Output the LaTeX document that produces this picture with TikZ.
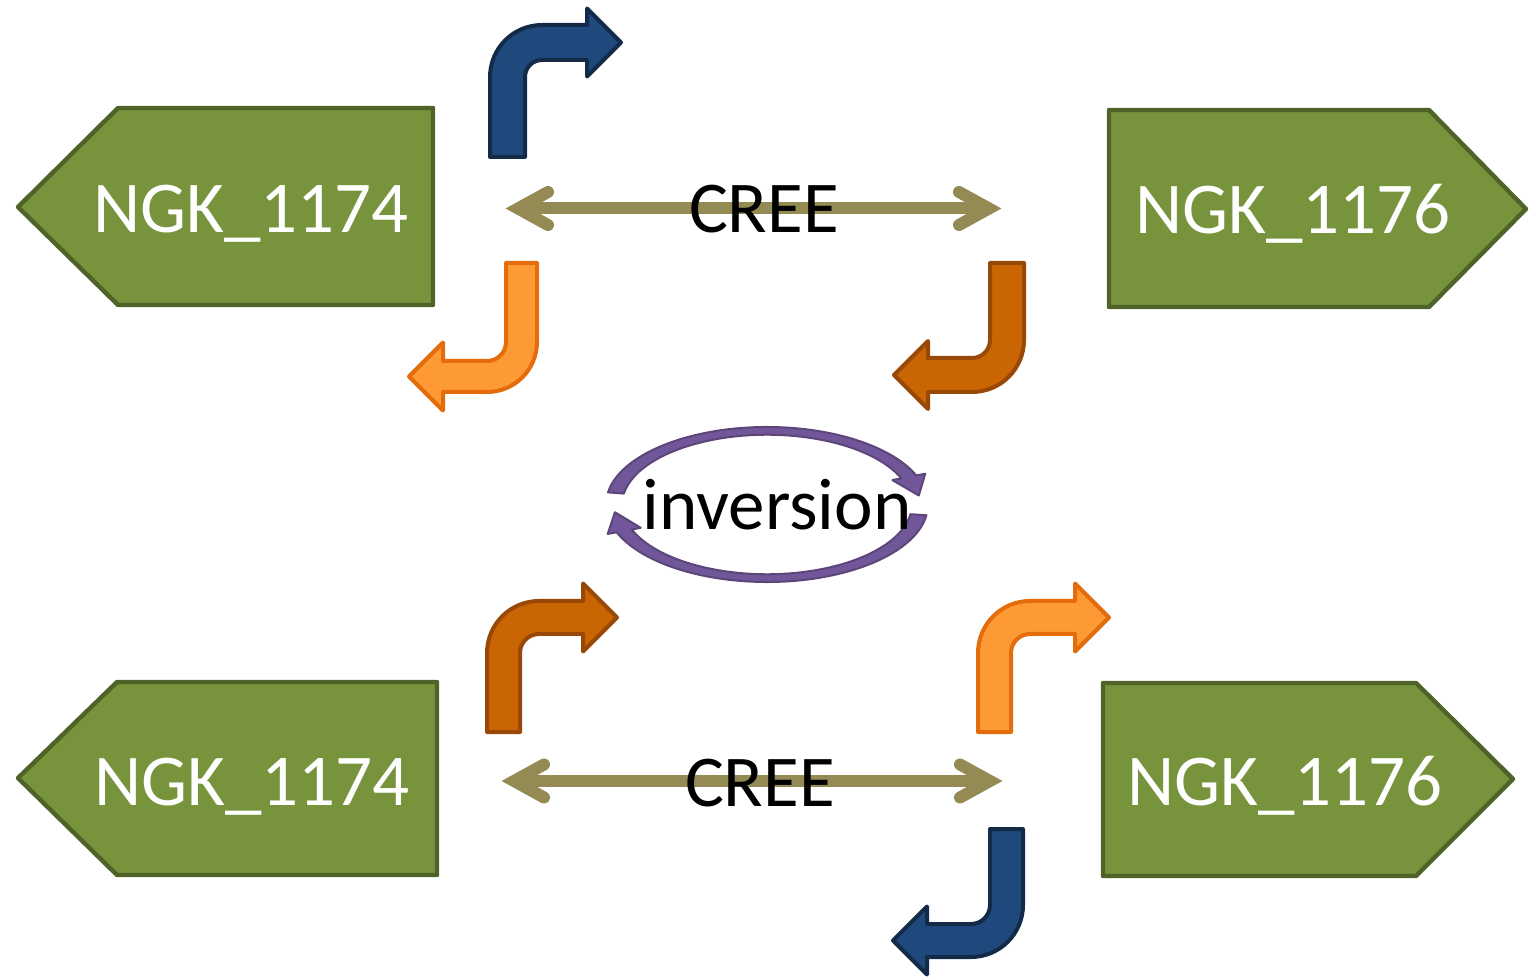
\documentclass[tikz,border=0pt]{standalone}
\usepackage{fontspec}
\setmainfont{Carlito}
\definecolor{genefill}{HTML}{77933C}
\definecolor{geneline}{HTML}{4F6228}
\definecolor{bluefill}{HTML}{1F497D}
\definecolor{blueline}{HTML}{132B49}
\definecolor{lightfill}{HTML}{FD9A36}
\definecolor{lightline}{HTML}{E46C0A}
\definecolor{darkfill}{HTML}{CA6504}
\definecolor{darkline}{HTML}{984807}
\definecolor{creecol}{HTML}{948A54}
\definecolor{ringfill}{HTML}{71579A}
\definecolor{ringline}{HTML}{5C4679}

% bent block arrow: shaft of width #4 starting at the origin, turning after #5
% with outer radius #6; the head starts at #7 along the turned part
\newcommand\turnarrow[7]{%
  \begin{scope}[shift={#2},#3]
    \path[#1] (0,0) -- (0,#5-#6) arc[start angle=180,end angle=90,radius=#6]
      -- (#7,#5) -- (#7,#5-#4/2+34) -- (#7+34,#5-#4/2) -- (#7,#5-#4/2-34)
      -- (#7,#5-#4) -- (#6,#5-#4) arc[start angle=90,end angle=180,radius=#6-#4]
      -- (#4,0) -- cycle;
  \end{scope}}

\begin{document}
\begin{tikzpicture}[x=0.5pt,y=-0.5pt,
  gene/.style={fill=genefill,draw=geneline,line width=2.2pt,line join=round},
  genelabel/.style={text=white,font=\fontsize{36.5}{40}\selectfont,anchor=base,inner sep=0pt},
  textlabel/.style={text=black,font=\fontsize{36.5}{40}\selectfont,anchor=base,inner sep=0pt},
  bluearrow/.style={fill=bluefill,draw=blueline,line width=2pt,line join=round},
  lightarrow/.style={fill=lightfill,draw=lightline,line width=2pt,line join=round},
  darkarrow/.style={fill=darkfill,draw=darkline,line width=2pt,line join=round},
  creeshaft/.style={draw=creecol,line width=6pt,line cap=butt},
  creehead/.style={draw=creecol,line width=6pt,line cap=round,line join=miter},
  ring/.style={fill=ringfill,draw=ringline,line width=1pt,line join=round}]
\useasboundingbox (0,0) rectangle (1530,977);

% genes, top row
\path[gene] (18,207) -- (118,108) -- (433,108) -- (433,305) -- (118,305) -- cycle;
\path[gene] (1109,110) -- (1429,110) -- (1526,209) -- (1429,307) -- (1109,307) -- cycle;
% genes, bottom row
\path[gene] (18,778) -- (117,682) -- (437,682) -- (437,875) -- (117,875) -- cycle;
\path[gene] (1103,683) -- (1416,683) -- (1513,779) -- (1416,876) -- (1103,876) -- cycle;

\node[genelabel] (ta) at (251,233) {NGK\_1174};
\node[genelabel] (tb) at (1293,234) {NGK\_1176};
\node[genelabel] (ba) at (252,805) {NGK\_1174};
\node[genelabel] (bb) at (1285,805) {NGK\_1176};

% promoter turns, top row
\turnarrow{bluearrow}{(490,157)}{yscale=-1}{35}{132}{52}{97}
\turnarrow{lightarrow}{(537,263)}{xscale=-1}{31}{129}{50}{94}
\turnarrow{darkarrow}{(1024,263)}{xscale=-1}{34}{129}{52}{96}
% promoter turns, bottom row
\turnarrow{darkarrow}{(487,732)}{yscale=-1}{33}{131}{52}{96}
\turnarrow{lightarrow}{(978,732)}{yscale=-1}{33}{131}{52}{97}
\turnarrow{bluearrow}{(1023,829)}{xscale=-1}{33}{128}{52}{96}

% CREE double arrows
\coordinate (c1l) at (518,208.5);
\coordinate (c1r) at (989,208.5);
\coordinate (c2l) at (514,781);
\coordinate (c2r) at (990,781);
\foreach \l/\r in {c1l/c1r,c2l/c2r}{
  \draw[creeshaft] (\l) -- (\r);
  \draw[creehead] ([shift={(30,-16.5)}]\l) -- (\l) -- ([shift={(30,16.5)}]\l);
  \draw[creehead] ([shift={(-30,-16.5)}]\r) -- (\r) -- ([shift={(-30,16.5)}]\r);
}
\node[textlabel] (cree1) at (764,233) {CREE};
\node[textlabel] (cree2) at (760,806) {CREE};

% inversion: two arcs of an elliptic ring with heads
\begin{scope}[shift={(767,504.5)},xscale=161,yscale=-77.5]
  \path[ring] (171:1) arc[start angle=171,end angle=22,radius=1]
    -- (22:1.06) -- (7:0.95) -- (22:0.84) -- (22:0.9)
    arc[start angle=22,end angle=171,radius=0.9] -- cycle;
  \path[ring] (-8:1) arc[start angle=-8,end angle=-159,radius=1]
    -- (-159:1.06) -- (-174:0.95) -- (-159:0.84) -- (-159:0.9)
    arc[start angle=-159,end angle=-8,radius=0.9] -- cycle;
\end{scope}
\node[textlabel] (inv) at (777,530) {inversion};
\end{tikzpicture}
\end{document}
